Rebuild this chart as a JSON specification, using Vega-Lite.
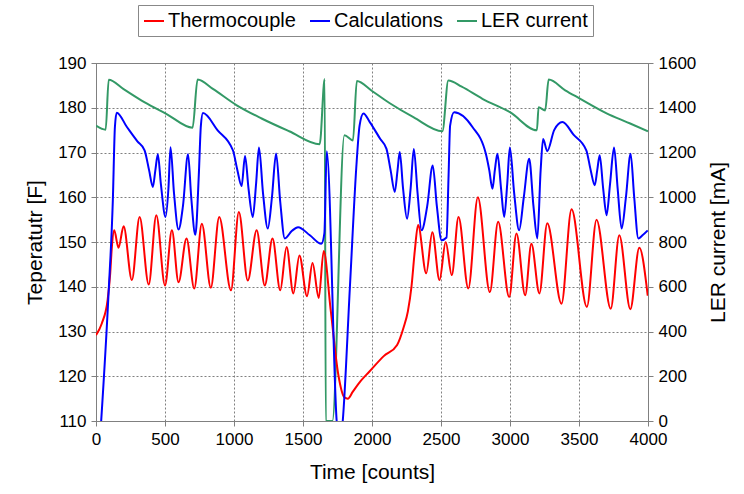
{
  "$schema": "https://vega.github.io/schema/vega-lite/v6.json",
  "width": 552,
  "height": 358,
  "autosize": {"type": "none"},
  "padding": {"left": 96, "top": 63, "right": 96, "bottom": 73},
  "background": "white",
  "config": {
    "font": "Liberation Sans",
    "view": {"stroke": "#808080", "strokeWidth": 1},
    "axis": {
      "labelFont": "Liberation Sans", "titleFont": "Liberation Sans",
      "labelFontSize": 17, "titleFontSize": 21, "titleFontWeight": "normal",
      "labelColor": "#000", "titleColor": "#000",
      "domainColor": "#808080", "tickColor": "#808080", "tickSize": 5,
      "gridColor": "#808080", "gridDash": [2, 2], "gridWidth": 1
    },
    "legend": {"labelFont": "Liberation Sans"}
  },
  "data": {
    "values": [
      {"series": "Thermocouple", "t": 0, "value": 129.2},
      {"series": "Thermocouple", "t": 42, "value": 131.8},
      {"series": "Thermocouple", "t": 84, "value": 137},
      {"series": "Thermocouple", "t": 103, "value": 143},
      {"series": "Thermocouple", "t": 115, "value": 148.9},
      {"series": "Thermocouple", "t": 132, "value": 152.6},
      {"series": "Thermocouple", "t": 163, "value": 148.7},
      {"series": "Thermocouple", "t": 200, "value": 153.5},
      {"series": "Thermocouple", "t": 260, "value": 141.5},
      {"series": "Thermocouple", "t": 316, "value": 155.6},
      {"series": "Thermocouple", "t": 382, "value": 140.5},
      {"series": "Thermocouple", "t": 437, "value": 156},
      {"series": "Thermocouple", "t": 500, "value": 140.3},
      {"series": "Thermocouple", "t": 550, "value": 152.6},
      {"series": "Thermocouple", "t": 598, "value": 141},
      {"series": "Thermocouple", "t": 656, "value": 150.8},
      {"series": "Thermocouple", "t": 712, "value": 139.6},
      {"series": "Thermocouple", "t": 767, "value": 154.1},
      {"series": "Thermocouple", "t": 832, "value": 139.8},
      {"series": "Thermocouple", "t": 893, "value": 155.6},
      {"series": "Thermocouple", "t": 978, "value": 139.2},
      {"series": "Thermocouple", "t": 1035, "value": 156.7},
      {"series": "Thermocouple", "t": 1100, "value": 141.4},
      {"series": "Thermocouple", "t": 1164, "value": 152.6},
      {"series": "Thermocouple", "t": 1223, "value": 140.3},
      {"series": "Thermocouple", "t": 1279, "value": 150.8},
      {"series": "Thermocouple", "t": 1335, "value": 139.2},
      {"series": "Thermocouple", "t": 1381, "value": 148.9},
      {"series": "Thermocouple", "t": 1430, "value": 138.5},
      {"series": "Thermocouple", "t": 1474, "value": 147},
      {"series": "Thermocouple", "t": 1529, "value": 137.9},
      {"series": "Thermocouple", "t": 1569, "value": 145.3},
      {"series": "Thermocouple", "t": 1614, "value": 137.5},
      {"series": "Thermocouple", "t": 1650, "value": 148},
      {"series": "Thermocouple", "t": 1700, "value": 135},
      {"series": "Thermocouple", "t": 1755, "value": 120.5},
      {"series": "Thermocouple", "t": 1800, "value": 115.3},
      {"series": "Thermocouple", "t": 1825, "value": 115},
      {"series": "Thermocouple", "t": 1860, "value": 116.5},
      {"series": "Thermocouple", "t": 1920, "value": 119},
      {"series": "Thermocouple", "t": 1980, "value": 121},
      {"series": "Thermocouple", "t": 2085, "value": 124.5},
      {"series": "Thermocouple", "t": 2182, "value": 127},
      {"series": "Thermocouple", "t": 2230, "value": 131},
      {"series": "Thermocouple", "t": 2260, "value": 134.5},
      {"series": "Thermocouple", "t": 2286, "value": 140},
      {"series": "Thermocouple", "t": 2310, "value": 148},
      {"series": "Thermocouple", "t": 2334, "value": 153.8},
      {"series": "Thermocouple", "t": 2393, "value": 143},
      {"series": "Thermocouple", "t": 2437, "value": 152.2},
      {"series": "Thermocouple", "t": 2489, "value": 141.5},
      {"series": "Thermocouple", "t": 2534, "value": 150},
      {"series": "Thermocouple", "t": 2578, "value": 142.6},
      {"series": "Thermocouple", "t": 2627, "value": 155.6},
      {"series": "Thermocouple", "t": 2698, "value": 139.6},
      {"series": "Thermocouple", "t": 2767, "value": 160},
      {"series": "Thermocouple", "t": 2854, "value": 138.8},
      {"series": "Thermocouple", "t": 2914, "value": 154.5},
      {"series": "Thermocouple", "t": 2994, "value": 137.7},
      {"series": "Thermocouple", "t": 3047, "value": 151.9},
      {"series": "Thermocouple", "t": 3110, "value": 138.1},
      {"series": "Thermocouple", "t": 3155, "value": 149.6},
      {"series": "Thermocouple", "t": 3213, "value": 138.5},
      {"series": "Thermocouple", "t": 3270, "value": 154.2},
      {"series": "Thermocouple", "t": 3373, "value": 136.2},
      {"series": "Thermocouple", "t": 3446, "value": 157.3},
      {"series": "Thermocouple", "t": 3557, "value": 135.5},
      {"series": "Thermocouple", "t": 3627, "value": 155},
      {"series": "Thermocouple", "t": 3730, "value": 135.1},
      {"series": "Thermocouple", "t": 3792, "value": 151.5},
      {"series": "Thermocouple", "t": 3872, "value": 135},
      {"series": "Thermocouple", "t": 3937, "value": 148.7},
      {"series": "Thermocouple", "t": 3998, "value": 138},

      {"series": "Calculations", "t": 25, "value": 104},
      {"series": "Calculations", "t": 91, "value": 138.5},
      {"series": "Calculations", "t": 122, "value": 159.3},
      {"series": "Calculations", "t": 137, "value": 175.7},
      {"series": "Calculations", "t": 150, "value": 178.9},
      {"series": "Calculations", "t": 224, "value": 175.7},
      {"series": "Calculations", "t": 300, "value": 172.5},
      {"series": "Calculations", "t": 352, "value": 170.5},
      {"series": "Calculations", "t": 385, "value": 166},
      {"series": "Calculations", "t": 412, "value": 162.3},
      {"series": "Calculations", "t": 430, "value": 166},
      {"series": "Calculations", "t": 448, "value": 169.6},
      {"series": "Calculations", "t": 470, "value": 163},
      {"series": "Calculations", "t": 504, "value": 155.6},
      {"series": "Calculations", "t": 525, "value": 162},
      {"series": "Calculations", "t": 540, "value": 171.2},
      {"series": "Calculations", "t": 565, "value": 161},
      {"series": "Calculations", "t": 598, "value": 152.8},
      {"series": "Calculations", "t": 630, "value": 158},
      {"series": "Calculations", "t": 667, "value": 169.6},
      {"series": "Calculations", "t": 690, "value": 160},
      {"series": "Calculations", "t": 720, "value": 151.6},
      {"series": "Calculations", "t": 745, "value": 165},
      {"series": "Calculations", "t": 760, "value": 176},
      {"series": "Calculations", "t": 775, "value": 178.8},
      {"series": "Calculations", "t": 880, "value": 175},
      {"series": "Calculations", "t": 992, "value": 170.5},
      {"series": "Calculations", "t": 1025, "value": 166},
      {"series": "Calculations", "t": 1055, "value": 162.5},
      {"series": "Calculations", "t": 1080, "value": 169.2},
      {"series": "Calculations", "t": 1105, "value": 162},
      {"series": "Calculations", "t": 1136, "value": 155.6},
      {"series": "Calculations", "t": 1160, "value": 163},
      {"series": "Calculations", "t": 1181, "value": 171.1},
      {"series": "Calculations", "t": 1210, "value": 161},
      {"series": "Calculations", "t": 1245, "value": 153},
      {"series": "Calculations", "t": 1275, "value": 160},
      {"series": "Calculations", "t": 1305, "value": 169.8},
      {"series": "Calculations", "t": 1335, "value": 159},
      {"series": "Calculations", "t": 1368, "value": 150.8},
      {"series": "Calculations", "t": 1420, "value": 152.5},
      {"series": "Calculations", "t": 1464, "value": 153.3},
      {"series": "Calculations", "t": 1550, "value": 151.5},
      {"series": "Calculations", "t": 1633, "value": 149.6},
      {"series": "Calculations", "t": 1655, "value": 152},
      {"series": "Calculations", "t": 1672, "value": 170.3},
      {"series": "Calculations", "t": 1744, "value": 110},
      {"series": "Calculations", "t": 1765, "value": 104},
      {"series": "Calculations", "t": 1788, "value": 110},
      {"series": "Calculations", "t": 1840, "value": 140},
      {"series": "Calculations", "t": 1889, "value": 168},
      {"series": "Calculations", "t": 1910, "value": 176},
      {"series": "Calculations", "t": 1938, "value": 178.7},
      {"series": "Calculations", "t": 1984, "value": 176.8},
      {"series": "Calculations", "t": 2060, "value": 173},
      {"series": "Calculations", "t": 2105, "value": 170.8},
      {"series": "Calculations", "t": 2135, "value": 166},
      {"series": "Calculations", "t": 2165, "value": 161.2},
      {"series": "Calculations", "t": 2185, "value": 166},
      {"series": "Calculations", "t": 2201, "value": 170.1},
      {"series": "Calculations", "t": 2225, "value": 162},
      {"series": "Calculations", "t": 2254, "value": 155.2},
      {"series": "Calculations", "t": 2280, "value": 162},
      {"series": "Calculations", "t": 2303, "value": 170.8},
      {"series": "Calculations", "t": 2330, "value": 161},
      {"series": "Calculations", "t": 2359, "value": 152.6},
      {"series": "Calculations", "t": 2400, "value": 158},
      {"series": "Calculations", "t": 2440, "value": 167.1},
      {"series": "Calculations", "t": 2470, "value": 158},
      {"series": "Calculations", "t": 2504, "value": 150.4},
      {"series": "Calculations", "t": 2540, "value": 151},
      {"series": "Calculations", "t": 2555, "value": 165},
      {"series": "Calculations", "t": 2566, "value": 176},
      {"series": "Calculations", "t": 2595, "value": 179},
      {"series": "Calculations", "t": 2728, "value": 175.7},
      {"series": "Calculations", "t": 2825, "value": 169.7},
      {"series": "Calculations", "t": 2850, "value": 166},
      {"series": "Calculations", "t": 2873, "value": 161.9},
      {"series": "Calculations", "t": 2890, "value": 166},
      {"series": "Calculations", "t": 2909, "value": 169.7},
      {"series": "Calculations", "t": 2935, "value": 162},
      {"series": "Calculations", "t": 2958, "value": 155.6},
      {"series": "Calculations", "t": 2980, "value": 163},
      {"series": "Calculations", "t": 2999, "value": 171.1},
      {"series": "Calculations", "t": 3030, "value": 161},
      {"series": "Calculations", "t": 3066, "value": 152.6},
      {"series": "Calculations", "t": 3100, "value": 160},
      {"series": "Calculations", "t": 3139, "value": 168.6},
      {"series": "Calculations", "t": 3170, "value": 158},
      {"series": "Calculations", "t": 3198, "value": 150.8},
      {"series": "Calculations", "t": 3222, "value": 166},
      {"series": "Calculations", "t": 3240, "value": 173},
      {"series": "Calculations", "t": 3270, "value": 170.3},
      {"series": "Calculations", "t": 3320, "value": 175},
      {"series": "Calculations", "t": 3380, "value": 176.8},
      {"series": "Calculations", "t": 3460, "value": 174},
      {"series": "Calculations", "t": 3553, "value": 170.5},
      {"series": "Calculations", "t": 3585, "value": 166},
      {"series": "Calculations", "t": 3614, "value": 162.7},
      {"series": "Calculations", "t": 3632, "value": 166},
      {"series": "Calculations", "t": 3650, "value": 169.4},
      {"series": "Calculations", "t": 3675, "value": 162},
      {"series": "Calculations", "t": 3700, "value": 156},
      {"series": "Calculations", "t": 3725, "value": 163},
      {"series": "Calculations", "t": 3754, "value": 171.1},
      {"series": "Calculations", "t": 3780, "value": 162},
      {"series": "Calculations", "t": 3809, "value": 153},
      {"series": "Calculations", "t": 3840, "value": 160},
      {"series": "Calculations", "t": 3874, "value": 169.7},
      {"series": "Calculations", "t": 3900, "value": 160},
      {"series": "Calculations", "t": 3930, "value": 150.8},
      {"series": "Calculations", "t": 3960, "value": 151.5},
      {"series": "Calculations", "t": 3998, "value": 152.6},

      {"series": "LER current", "t": 0, "value": 1320},
      {"series": "LER current", "t": 70, "value": 1302},
      {"series": "LER current", "t": 92, "value": 1525},
      {"series": "LER current", "t": 200, "value": 1483},
      {"series": "LER current", "t": 350, "value": 1425},
      {"series": "LER current", "t": 509, "value": 1373},
      {"series": "LER current", "t": 700, "value": 1311},
      {"series": "LER current", "t": 736, "value": 1526},
      {"series": "LER current", "t": 850, "value": 1483},
      {"series": "LER current", "t": 1017, "value": 1412},
      {"series": "LER current", "t": 1200, "value": 1352},
      {"series": "LER current", "t": 1400, "value": 1295},
      {"series": "LER current", "t": 1621, "value": 1237},
      {"series": "LER current", "t": 1657, "value": 1528},
      {"series": "LER current", "t": 1665, "value": 0},
      {"series": "LER current", "t": 1713, "value": 0},
      {"series": "LER current", "t": 1800, "value": 1277},
      {"series": "LER current", "t": 1862, "value": 1254},
      {"series": "LER current", "t": 1890, "value": 1519},
      {"series": "LER current", "t": 2000, "value": 1475},
      {"series": "LER current", "t": 2129, "value": 1420},
      {"series": "LER current", "t": 2300, "value": 1358},
      {"series": "LER current", "t": 2510, "value": 1295},
      {"series": "LER current", "t": 2553, "value": 1522},
      {"series": "LER current", "t": 2650, "value": 1494},
      {"series": "LER current", "t": 2800, "value": 1440},
      {"series": "LER current", "t": 3000, "value": 1380},
      {"series": "LER current", "t": 3195, "value": 1299},
      {"series": "LER current", "t": 3207, "value": 1402},
      {"series": "LER current", "t": 3255, "value": 1388},
      {"series": "LER current", "t": 3280, "value": 1526},
      {"series": "LER current", "t": 3400, "value": 1478},
      {"series": "LER current", "t": 3500, "value": 1443},
      {"series": "LER current", "t": 3700, "value": 1375},
      {"series": "LER current", "t": 3850, "value": 1335},
      {"series": "LER current", "t": 4000, "value": 1295}
    ]
  },
  "layer": [
    {
      "transform": [{"filter": "datum.series === 'LER current'"}],
      "mark": {"type": "line", "interpolate": "monotone", "clip": true, "strokeWidth": 2},
      "encoding": {
        "x": {"field": "t", "type": "quantitative", "scale": {"domain": [0, 4000], "nice": false},
          "axis": {"values": [0, 500, 1000, 1500, 2000, 2500, 3000, 3500, 4000], "format": "d", "labelFlush": false, "title": "Time [counts]", "grid": true, "labelPadding": 5, "titlePadding": 14}},
        "y": {"field": "value", "type": "quantitative", "scale": {"domain": [0, 1600], "nice": false},
          "axis": {"orient": "right", "values": [0, 200, 400, 600, 800, 1000, 1200, 1400, 1600], "format": "d", "labelFlush": false, "title": "LER current [mA]", "titleAngle": -90, "titleBaseline": "top", "grid": false, "labelPadding": 5, "titlePadding": 12}},
        "color": {"field": "series", "type": "nominal",
          "scale": {"domain": ["Thermocouple", "Calculations", "LER current"], "range": ["#ff0000", "#0000ff", "#339966"]},
          "legend": {"orient": "none", "legendX": 42, "legendY": -58, "direction": "horizontal", "title": null,
            "strokeColor": "#888888", "fillColor": "white", "padding": 5, "labelFontSize": 20, "labelColor": "#000",
            "symbolType": "stroke", "symbolSize": 400, "symbolStrokeWidth": 2, "labelOffset": 3, "columnPadding": 10}}
      }
    },
    {
      "transform": [{"filter": "datum.series !== 'LER current'"}],
      "mark": {"type": "line", "interpolate": "monotone", "clip": true, "strokeWidth": 2},
      "encoding": {
        "x": {"field": "t", "type": "quantitative", "scale": {"domain": [0, 4000], "nice": false}},
        "y": {"field": "value", "type": "quantitative", "scale": {"domain": [110, 190], "nice": false, "zero": false},
          "axis": {"orient": "left", "values": [110, 120, 130, 140, 150, 160, 170, 180, 190], "labelFlush": false, "title": "Teperatutr [F]", "grid": true, "labelPadding": 5, "titlePadding": 12}},
        "color": {"field": "series", "type": "nominal",
          "scale": {"domain": ["Thermocouple", "Calculations", "LER current"], "range": ["#ff0000", "#0000ff", "#339966"]},
          "legend": {"orient": "none", "legendX": 42, "legendY": -58, "direction": "horizontal", "title": null,
            "strokeColor": "#888888", "fillColor": "white", "padding": 5, "labelFontSize": 20, "labelColor": "#000",
            "symbolType": "stroke", "symbolSize": 400, "symbolStrokeWidth": 2, "labelOffset": 3, "columnPadding": 10}}
      }
    }
  ],
  "resolve": {"scale": {"y": "independent"}}
}
